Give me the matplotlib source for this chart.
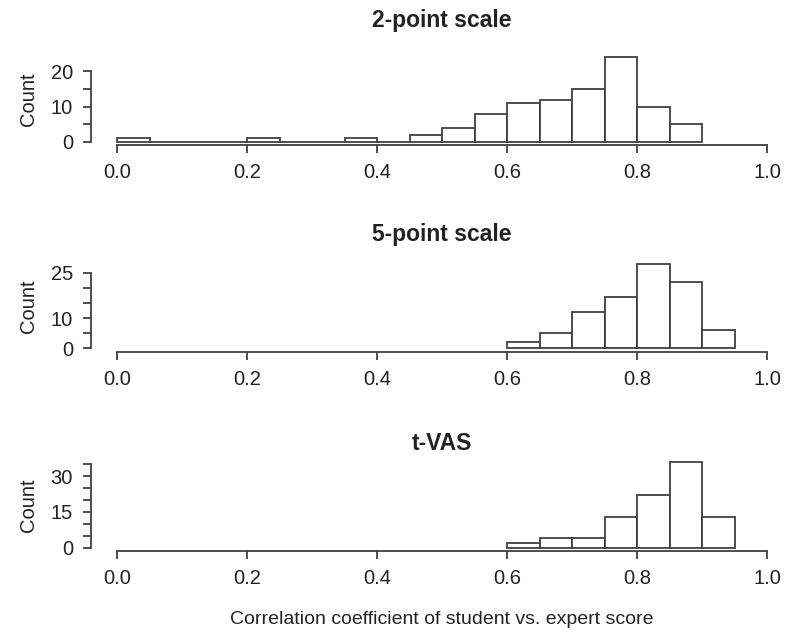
import matplotlib
matplotlib.use("Agg")
import matplotlib.pyplot as plt

plt.rcParams['font.family'] = ['Liberation Sans', 'DejaVu Sans']

# ---- data ----
titles = ["2-point scale", "5-point scale", "t-VAS"]
x_label = "Correlation coefficient of student vs. expert score"
y_label = "Count"

edges1 = [0.00, 0.05, 0.10, 0.15, 0.20, 0.25, 0.30, 0.35, 0.40,
          0.45, 0.50, 0.55, 0.60, 0.65, 0.70, 0.75, 0.80, 0.85]
counts1 = [1, 0, 0, 0, 1, 0, 0, 1, 0, 2, 4, 8, 11, 12, 15, 24, 10, 5]

edges2 = [0.60, 0.65, 0.70, 0.75, 0.80, 0.85, 0.90]
counts2 = [2, 5, 12, 17, 28, 22, 6]

edges3 = [0.60, 0.65, 0.70, 0.75, 0.80, 0.85, 0.90]
counts3 = [2, 4, 4, 13, 22, 36, 13]

bin_width = 0.05
x_ticks = [0.0, 0.2, 0.4, 0.6, 0.8, 1.0]
x_ticklabels = ["0.0", "0.2", "0.4", "0.6", "0.8", "1.0"]

y_ticks = [[0, 5, 10, 15, 20], [0, 5, 10, 15, 20, 25], [0, 5, 10, 15, 20, 25, 30, 35]]
y_ticklabels = [["0", "", "10", "", "20"],
                ["0", "", "10", "", "", "25"],
                ["0", "", "", "15", "", "", "30", ""]]

panels = [(edges1, counts1), (edges2, counts2), (edges3, counts3)]

# ---- layout (pixel positions from top) ----
W, H = 786, 632
left_px, width_px = 91, 702
axes_px = [(54, 145), (260.5, 351.5), (458.5, 551)]
title_px = [21, 234, 444]

line_col = "#404040"
text_col = "#222222"
lw = 1.3

fig = plt.figure(figsize=(W / 100, H / 100), dpi=100)

for i, ((edges, counts), (top, bot)) in enumerate(zip(panels, axes_px)):
    ax = fig.add_axes([left_px / W, 1 - bot / H, width_px / W, (bot - top) / H])
    ymax = max(counts)
    ax.set_xlim(-0.04, 1.04)
    ax.set_ylim(-0.04 * ymax, 1.04 * ymax)
    ax.bar(edges, counts, width=bin_width, align='edge', color='white',
           edgecolor=line_col, linewidth=lw)
    for s in ['top', 'right']:
        ax.spines[s].set_visible(False)
    ax.spines['bottom'].set_bounds(0, 1)
    ax.spines['left'].set_bounds(y_ticks[i][0], y_ticks[i][-1])
    for s in ['bottom', 'left']:
        ax.spines[s].set_color(line_col)
        ax.spines[s].set_linewidth(lw)
    ax.set_xticks(x_ticks)
    ax.set_xticklabels(x_ticklabels)
    ax.set_yticks(y_ticks[i])
    ax.set_yticklabels(y_ticklabels[i])
    ax.tick_params(axis='both', length=6, width=lw, color=line_col,
                   labelsize=14.5, labelcolor=text_col)
    ax.tick_params(axis='x', pad=7)
    ax.tick_params(axis='y', pad=7)
    ax.set_ylabel(y_label, fontsize=14.5, color=text_col, labelpad=9)
    ax.patch.set_visible(False)
    cx = (left_px + width_px / 2) / W
    fig.text(cx, 1 - title_px[i] / H, titles[i], ha='center', va='center',
             fontsize=16.5, fontweight='bold', color=text_col)

fig.text((left_px + width_px / 2) / W, 1 - 620 / H, x_label, ha='center',
         va='center', fontsize=14, color=text_col)

fig.savefig("out.png", dpi=100)
